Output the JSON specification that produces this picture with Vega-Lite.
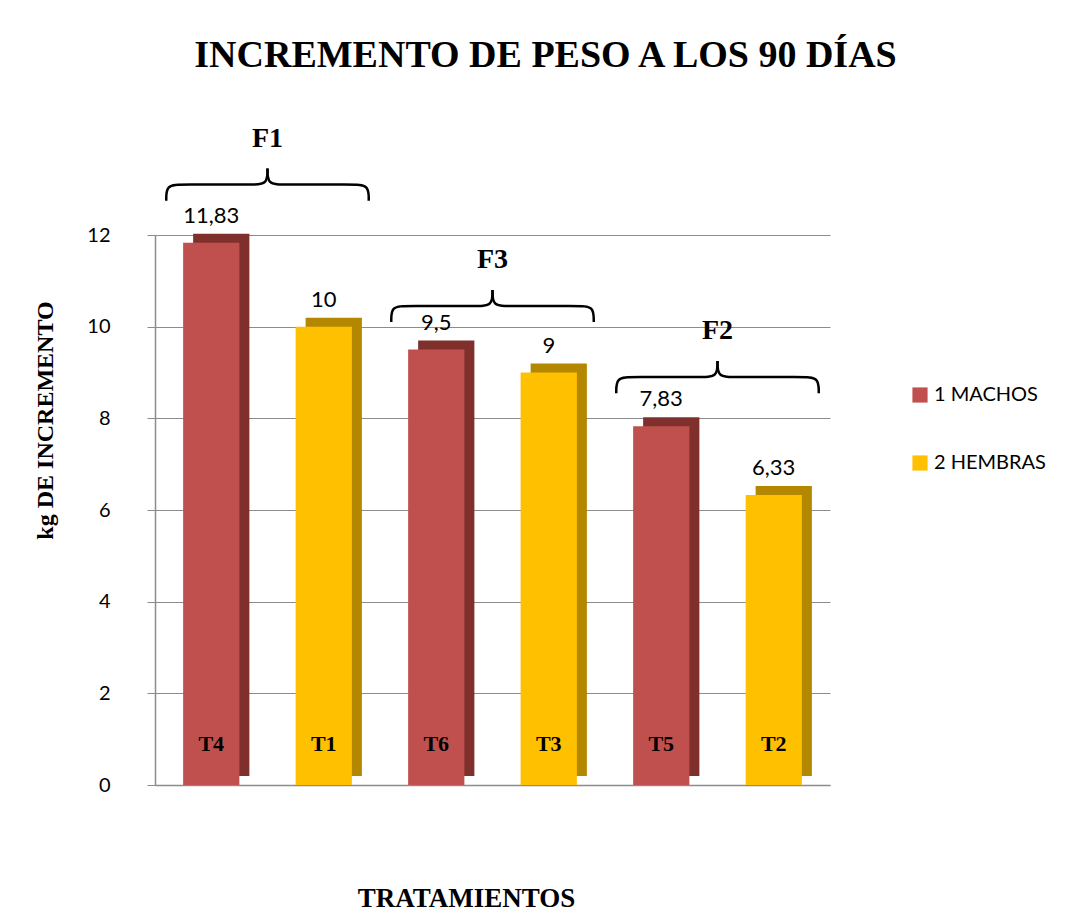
{
  "$schema": "https://vega.github.io/schema/vega-lite/v6.json",
  "width": 675,
  "height": 550,
  "autosize": {"type": "none"},
  "padding": {"left": 155, "top": 235, "right": 243, "bottom": 139},
  "background": "white",
  "title": {
    "text": "INCREMENTO DE PESO A LOS 90 DÍAS",
    "font": "Liberation Serif",
    "fontSize": 38,
    "fontWeight": "bold",
    "color": "black",
    "anchor": "middle",
    "frame": "group",
    "baseline": "alphabetic",
    "offset": 20,
    "dx": 53
  },
  "config": {
    "view": {"stroke": null},
    "locale": {
      "number": {"decimal": ",", "thousands": ".", "grouping": [3], "currency": ["", " €"]}
    }
  },
  "resolve": {"scale": {"x": "independent"}, "axis": {"x": "independent"}},
  "layer": [
    {
      "data": {
        "values": [
          {"tratamiento": "T4", "serie": "1", "incremento": 11.83},
          {"tratamiento": "T1", "serie": "2", "incremento": 10},
          {"tratamiento": "T6", "serie": "1", "incremento": 9.5},
          {"tratamiento": "T3", "serie": "2", "incremento": 9},
          {"tratamiento": "T5", "serie": "1", "incremento": 7.83},
          {"tratamiento": "T2", "serie": "2", "incremento": 6.33}
        ]
      },
      "encoding": {
        "x": {
          "field": "tratamiento",
          "type": "nominal",
          "sort": null,
          "scale": {"paddingInner": 0.5, "paddingOuter": 0.25},
          "axis": {
            "title": "TRATAMIENTOS",
            "titleFont": "Liberation Serif",
            "titleFontSize": 27,
            "titleFontWeight": "bold",
            "titleColor": "black",
            "titleX": 311,
            "titleY": 100,
            "labels": false,
            "ticks": false,
            "domainColor": "#8c8c8c",
            "domainWidth": 1.5
          }
        }
      },
      "layer": [
        {
          "mark": {"type": "bar", "xOffset": 10, "yOffset": -9, "y2Offset": -9},
          "encoding": {
            "y": {
              "field": "incremento",
              "type": "quantitative",
              "scale": {"domain": [0, 12], "nice": false},
              "axis": {
                "title": "kg DE INCREMENTO",
                "titleFont": "Liberation Serif",
                "titleFontSize": 24,
                "titleFontWeight": "bold",
                "titleColor": "black",
                "titlePadding": 29,
                "titleY": 185,
                "values": [0, 2, 4, 6, 8, 10, 12],
                "labelFont": "Lato",
                "labelFontSize": 20,
                "labelColor": "black",
                "labelPadding": 37,
                "tickSize": 8,
                "tickColor": "#8c8c8c",
                "domainColor": "#8c8c8c",
                "domainWidth": 1.5,
                "gridColor": "#8c8c8c",
                "gridWidth": 1.2
              }
            },
            "fill": {
              "condition": {"test": "datum.serie == '1'", "value": "#7F302D"},
              "value": "#B38700"
            }
          }
        },
        {
          "mark": {"type": "bar"},
          "encoding": {
            "y": {"field": "incremento", "type": "quantitative"},
            "color": {
              "field": "serie",
              "type": "nominal",
              "scale": {"domain": ["1", "2"], "range": ["#C0504D", "#FFC000"]},
              "legend": {
                "title": null,
                "orient": "none",
                "legendX": 755,
                "legendY": 150,
                "symbolType": "square",
                "symbolSize": 230,
                "symbolStrokeWidth": 0,
                "labelFont": "Lato",
                "labelFontSize": 20,
                "labelColor": "black",
                "rowPadding": 48,
                "labelExpr": "datum.label == '1' ? '1  MACHOS' : '2  HEMBRAS'"
              }
            }
          }
        },
        {
          "mark": {"type": "text", "font": "Lato", "fontSize": 22, "color": "black", "dy": -27},
          "encoding": {
            "y": {"field": "incremento", "type": "quantitative"},
            "text": {"field": "incremento", "type": "quantitative", "format": "~g"}
          }
        },
        {
          "mark": {"type": "text", "font": "Liberation Serif", "fontSize": 22, "fontWeight": "bold", "color": "black"},
          "encoding": {
            "y": {"datum": 0.9},
            "text": {"field": "tratamiento", "type": "nominal"}
          }
        }
      ]
    },
    {
      "data": {
        "values": [
          {"factor": "F1", "tramo": "F1a", "orden": 1, "px": 0.1, "py": 12.75},
          {"factor": "F1", "tramo": "F1a", "orden": 2, "px": 0.1, "py": 13.1},
          {"factor": "F1", "tramo": "F1a", "orden": 3, "px": 0.24, "py": 13.1},
          {"factor": "F1", "tramo": "F1a", "orden": 4, "px": 0.86, "py": 13.1},
          {"factor": "F1", "tramo": "F1a", "orden": 5, "px": 1.0, "py": 13.1},
          {"factor": "F1", "tramo": "F1a", "orden": 6, "px": 1.0, "py": 13.45},
          {"factor": "F1", "tramo": "F1b", "orden": 1, "px": 1.9, "py": 12.75},
          {"factor": "F1", "tramo": "F1b", "orden": 2, "px": 1.9, "py": 13.1},
          {"factor": "F1", "tramo": "F1b", "orden": 3, "px": 1.76, "py": 13.1},
          {"factor": "F1", "tramo": "F1b", "orden": 4, "px": 1.14, "py": 13.1},
          {"factor": "F1", "tramo": "F1b", "orden": 5, "px": 1.0, "py": 13.1},
          {"factor": "F1", "tramo": "F1b", "orden": 6, "px": 1.0, "py": 13.45},
          {"factor": "F3", "tramo": "F3a", "orden": 1, "px": 2.1, "py": 10.1},
          {"factor": "F3", "tramo": "F3a", "orden": 2, "px": 2.1, "py": 10.45},
          {"factor": "F3", "tramo": "F3a", "orden": 3, "px": 2.24, "py": 10.45},
          {"factor": "F3", "tramo": "F3a", "orden": 4, "px": 2.86, "py": 10.45},
          {"factor": "F3", "tramo": "F3a", "orden": 5, "px": 3.0, "py": 10.45},
          {"factor": "F3", "tramo": "F3a", "orden": 6, "px": 3.0, "py": 10.8},
          {"factor": "F3", "tramo": "F3b", "orden": 1, "px": 3.9, "py": 10.1},
          {"factor": "F3", "tramo": "F3b", "orden": 2, "px": 3.9, "py": 10.45},
          {"factor": "F3", "tramo": "F3b", "orden": 3, "px": 3.76, "py": 10.45},
          {"factor": "F3", "tramo": "F3b", "orden": 4, "px": 3.14, "py": 10.45},
          {"factor": "F3", "tramo": "F3b", "orden": 5, "px": 3.0, "py": 10.45},
          {"factor": "F3", "tramo": "F3b", "orden": 6, "px": 3.0, "py": 10.8},
          {"factor": "F2", "tramo": "F2a", "orden": 1, "px": 4.1, "py": 8.55},
          {"factor": "F2", "tramo": "F2a", "orden": 2, "px": 4.1, "py": 8.9},
          {"factor": "F2", "tramo": "F2a", "orden": 3, "px": 4.24, "py": 8.9},
          {"factor": "F2", "tramo": "F2a", "orden": 4, "px": 4.86, "py": 8.9},
          {"factor": "F2", "tramo": "F2a", "orden": 5, "px": 5.0, "py": 8.9},
          {"factor": "F2", "tramo": "F2a", "orden": 6, "px": 5.0, "py": 9.25},
          {"factor": "F2", "tramo": "F2b", "orden": 1, "px": 5.9, "py": 8.55},
          {"factor": "F2", "tramo": "F2b", "orden": 2, "px": 5.9, "py": 8.9},
          {"factor": "F2", "tramo": "F2b", "orden": 3, "px": 5.76, "py": 8.9},
          {"factor": "F2", "tramo": "F2b", "orden": 4, "px": 5.14, "py": 8.9},
          {"factor": "F2", "tramo": "F2b", "orden": 5, "px": 5.0, "py": 8.9},
          {"factor": "F2", "tramo": "F2b", "orden": 6, "px": 5.0, "py": 9.25}
        ]
      },
      "encoding": {
        "x": {
          "field": "px",
          "type": "quantitative",
          "scale": {"domain": [0, 6], "nice": false, "zero": false},
          "axis": null
        }
      },
      "layer": [
        {
          "mark": {"type": "line", "interpolate": "basis", "color": "black", "strokeWidth": 2.5, "clip": false},
          "encoding": {
            "y": {"field": "py", "type": "quantitative"},
            "detail": {"field": "tramo"},
            "order": {"field": "orden"}
          }
        },
        {
          "transform": [{"filter": "datum.orden == 6 && (datum.tramo == 'F1a' || datum.tramo == 'F2a' || datum.tramo == 'F3a')"}],
          "mark": {"type": "text", "font": "Liberation Serif", "fontSize": 28, "fontWeight": "bold", "color": "black", "dy": -30, "baseline": "middle"},
          "encoding": {
            "y": {"field": "py", "type": "quantitative"},
            "text": {"field": "factor"}
          }
        }
      ]
    }
  ]
}
